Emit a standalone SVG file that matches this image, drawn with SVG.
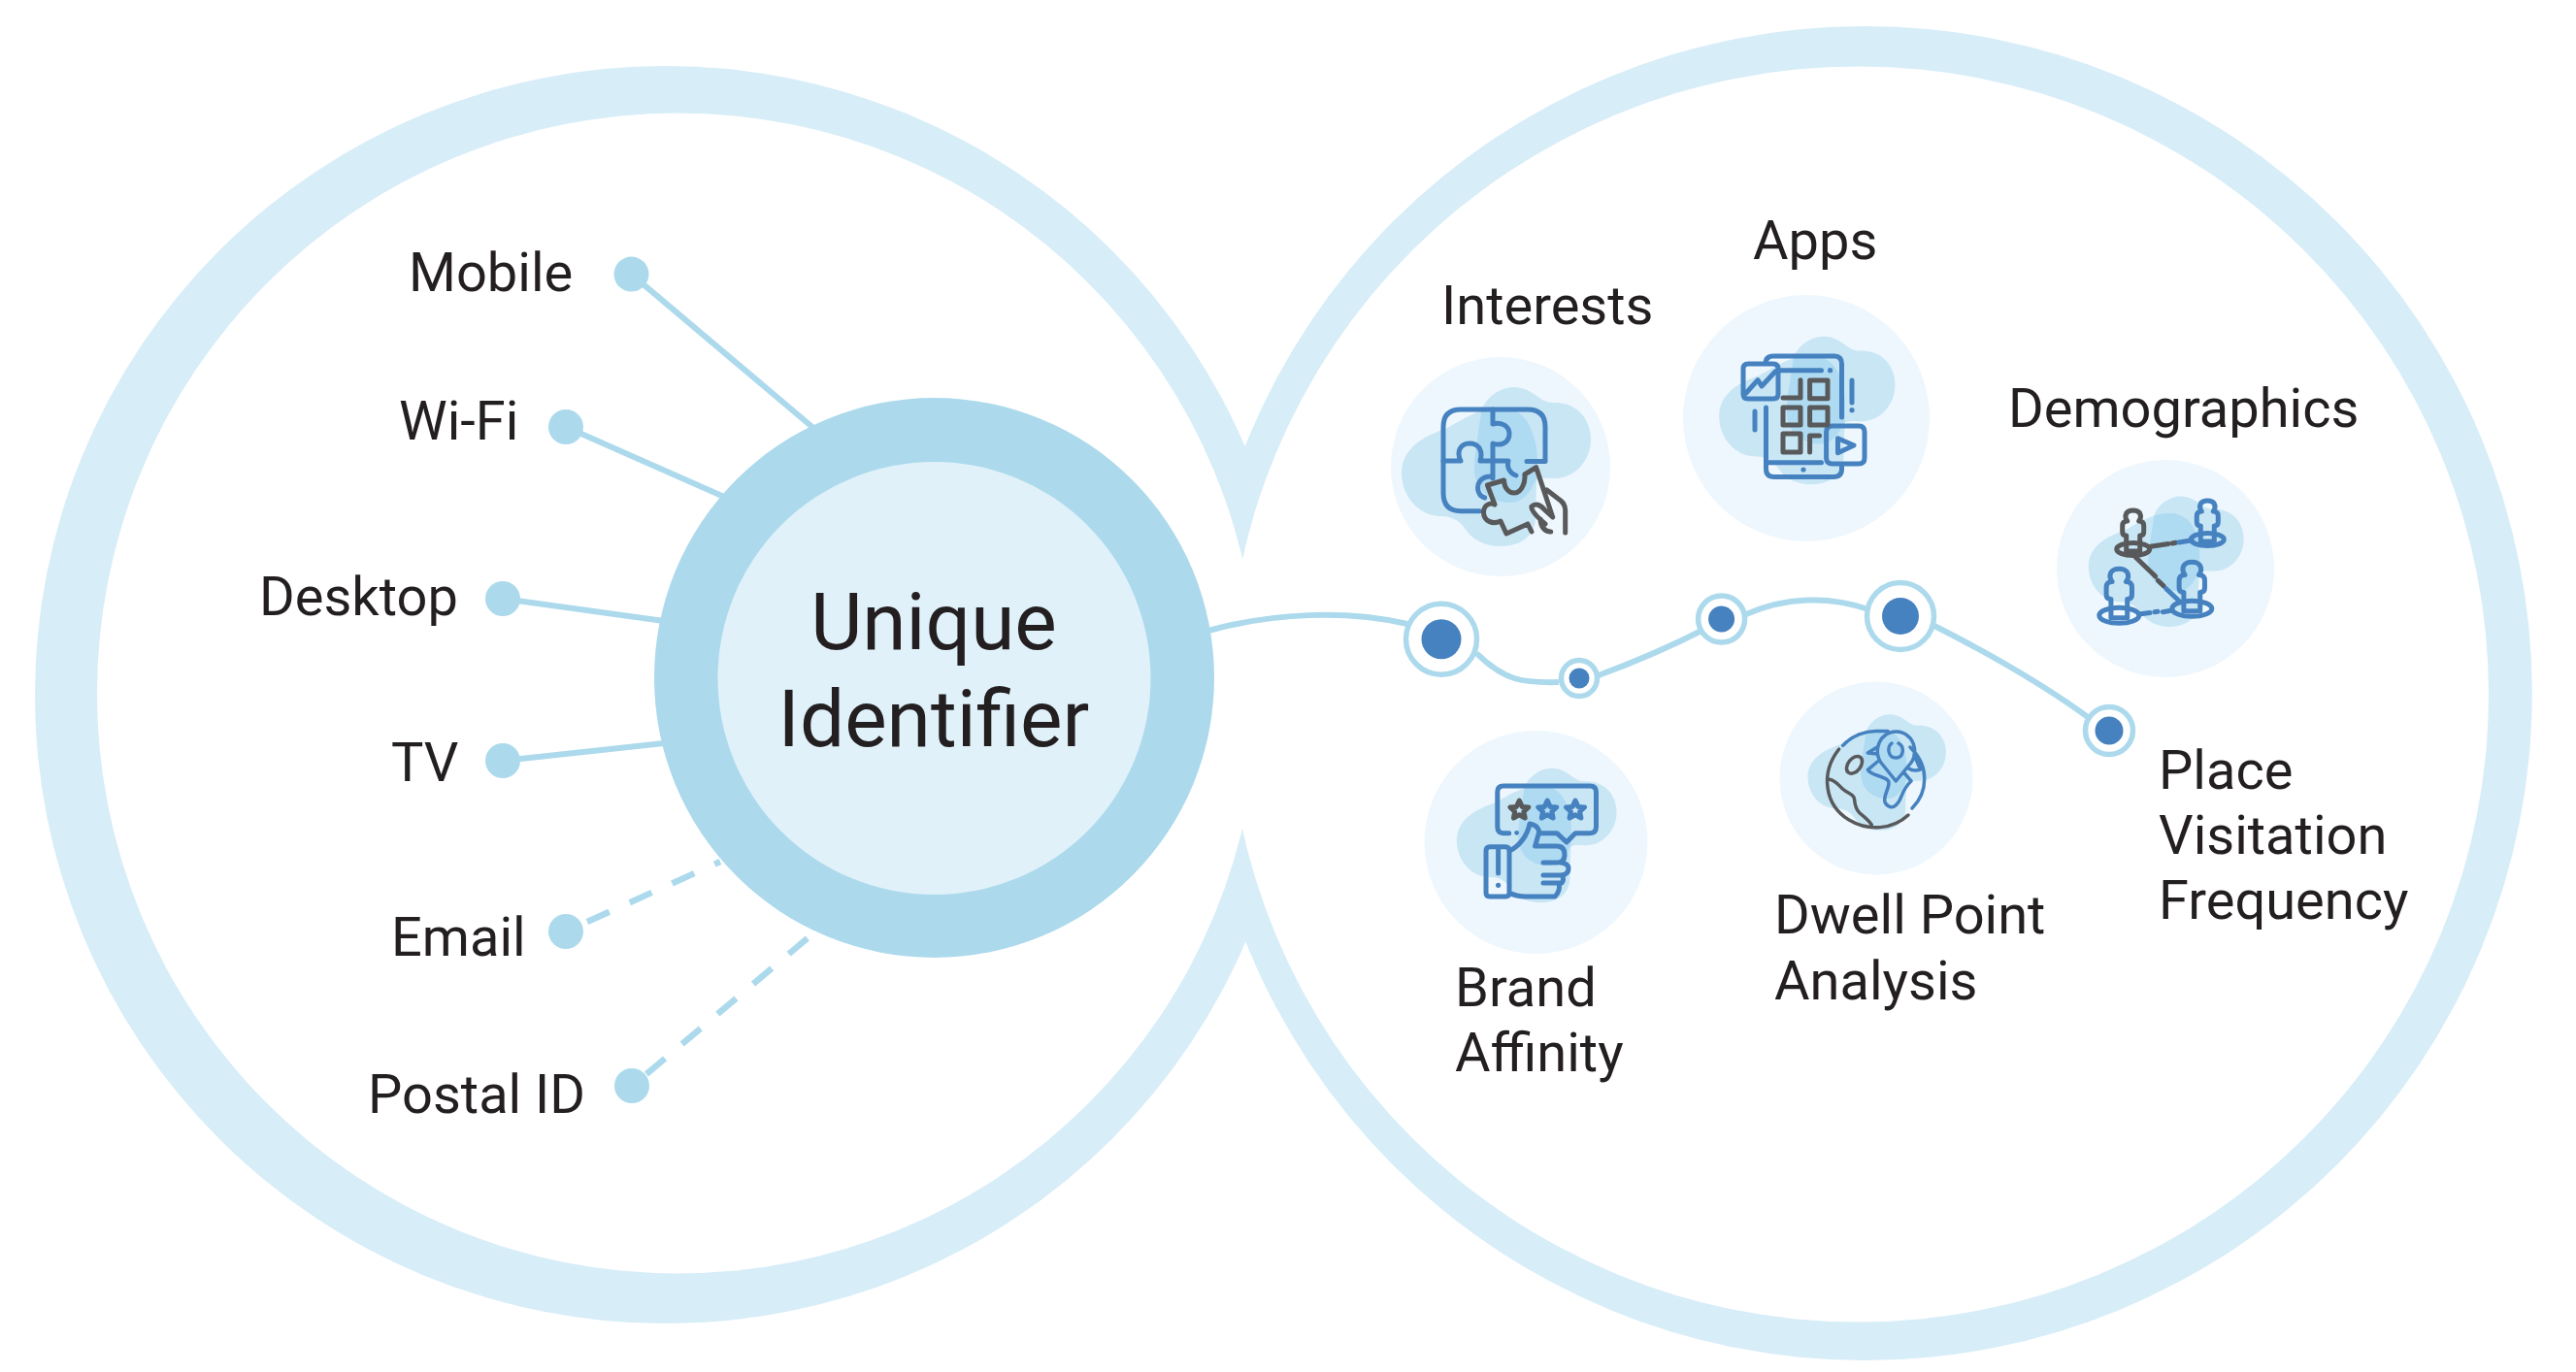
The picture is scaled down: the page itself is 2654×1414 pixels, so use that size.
<svg xmlns="http://www.w3.org/2000/svg" width="2654" height="1414" viewBox="0 0 2654 1414">
<style>
text{font-family:Roboto,"Liberation Sans",sans-serif;fill:#231f20;font-size:56px}
.band{fill:#d7edf8}.hole{fill:#fff}
.dot{fill:#acdaec}
.line{fill:none;stroke:#acdaec;stroke-width:6}
.dash{stroke-dasharray:25 23;stroke-width:6.5}
.bg{fill:#eef7fd}
.ring{fill:#fff;stroke:#acdaec;stroke-width:5.5}
.core{fill:#4682c0}
.b{fill:none;stroke:#4682c0;stroke-width:5;stroke-linecap:round;stroke-linejoin:round}
.g{fill:none;stroke:#58595b;stroke-width:5;stroke-linecap:round;stroke-linejoin:round}
.thin{stroke-width:3.5}
.b1{fill:#c9e6f5}.b2{fill:#aedaf2}
</style>
<defs>
<path id="blobA" d="M-57,-39C-85,-30-102,-15-102,6C-102,30-85,51-61,51C-48,51-40,58-35,66C-28,76-15,82 0,82C22,82 36,70 36,52C36,20 40,-10 36,-24C32,-45 22,-60 0,-61C-22,-61-40,-48-57,-39Z"/>
<path id="blobB" d="M14,-82C24,-82 32,-77 40,-71C45,-67 50,-66 56,-66C78,-66 93,-50 93,-28C93,-8 78,12 56,12C48,12 42,11 36,14C30,28 22,37 10,37C-12,37-27,22-27,2C-27,-15-22,-40-19.5,-58C-15,-72 0,-82 14,-82Z"/>
<clipPath id="clipA"><use href="#blobA"/></clipPath>
<g id="blob"><use href="#blobA" class="b1"/><use href="#blobB" class="b1"/><use href="#blobB" class="b2" clip-path="url(#clipA)"/></g>
<path id="body" d="M-7,2V-14Q-11,-14-11,-18V-24Q-11,-29-6,-29Q-9,-33-7,-37Q-5,-40 0,-40Q5,-40 7,-37Q9,-33 6,-29Q11,-29 11,-24V-18Q11,-14 7,-14V2Z"/>
<polygon id="star" points="0,-10 2.9,-3.6 9.5,-3.1 4.6,1.5 5.9,8.1 0,4.8 -5.9,8.1 -4.6,1.5 -9.5,-3.1 -2.9,-3.6"/>
</defs>

<g id="rings">
<ellipse class="band" cx="685.8" cy="716" rx="649.8" ry="648"/>
<circle class="band" cx="1921.3" cy="714.5" r="687.5"/>
<ellipse class="hole" cx="698.25" cy="714.5" rx="598.25" ry="598"/>
<ellipse class="hole" cx="1914.4" cy="715.5" rx="649.6" ry="647"/>
</g>

<g id="connectors">
<line class="line" x1="650.5" y1="282.6" x2="838" y2="441"/>
<line class="line" x1="583" y1="440" x2="746" y2="512"/>
<line class="line" x1="518" y1="617" x2="684" y2="640"/>
<line class="line" x1="518" y1="784" x2="684" y2="766"/>
<line class="line dash" x1="605" y1="950" x2="742" y2="888"/>
<line class="line dash" x1="666" y1="1107" x2="833" y2="966"/>
<path class="line" d="M1245,650C1310,632 1385,628 1450,643"/>
<path class="line" d="M1521,673C1550,702 1570,704 1606,703"/>
<path class="line" d="M1647,696C1682,683 1718,668 1755,649"/>
<path class="line" d="M1799,633C1840,615 1885,614 1925,628"/>
<path class="line" d="M1993,645C2050,674 2105,705 2155,742"/>
</g>

<g id="center">
<circle cx="962.5" cy="698.5" r="288.5" fill="#acdaec"/>
<circle cx="962.5" cy="699" r="223" fill="#e0f1fa"/>
<text x="962" y="669" text-anchor="middle" style="font-size:82px">Unique</text>
<text x="962" y="769" text-anchor="middle" style="font-size:82px">Identifier</text>
</g>

<g id="mobile"><circle class="dot" cx="650.5" cy="282.6" r="18"/><text x="421" y="300">Mobile</text></g>
<g id="wifi"><circle class="dot" cx="583" cy="440" r="18"/><text x="411" y="453">Wi-Fi</text></g>
<g id="desktop"><circle class="dot" cx="518" cy="617" r="18"/><text x="267" y="634">Desktop</text></g>
<g id="tv"><circle class="dot" cx="518" cy="784" r="18"/><text x="403" y="805">TV</text></g>
<g id="email"><circle class="dot" cx="583" cy="960" r="18"/><text x="403" y="985">Email</text></g>
<g id="postal"><circle class="dot" cx="651" cy="1119" r="18"/><text x="379" y="1147">Postal ID</text></g>

<g id="path-node-1"><circle class="ring" cx="1485" cy="658.7" r="36.5"/><circle class="core" cx="1485" cy="658.7" r="20.5"/></g>
<g id="path-node-2"><circle class="ring" cx="1627" cy="699" r="18.5"/><circle class="core" cx="1627" cy="699" r="10.5"/></g>
<g id="path-node-3"><circle class="ring" cx="1773.6" cy="638" r="24"/><circle class="core" cx="1773.6" cy="638" r="13.5"/></g>
<g id="path-node-4"><circle class="ring" cx="1958" cy="635" r="34.5"/><circle class="core" cx="1958" cy="635" r="19"/></g>
<g id="path-node-5"><circle class="ring" cx="2173" cy="753" r="24.5"/><circle class="core" cx="2173" cy="753" r="14.5"/></g>

<g id="interests">
<text x="1485" y="334">Interests</text>
<circle class="bg" cx="1546" cy="481" r="113"/>
<use href="#blob" x="1546" y="481"/>
<path class="b" d="M1524.5,526.7H1505Q1487,526.7 1487,508V440Q1487,422 1505,422H1574Q1592,422 1592,440V475.5H1573"/>
<path class="b" d="M1538,422V437C1548,434 1555,440 1555,447C1555,456 1547,460 1538,457V493"/>
<path class="b" d="M1487,475H1505C1500,465 1505,457 1514,457C1524,457 1528,465 1525,475H1554C1552,482 1556,488 1562,490"/>
<path class="b" d="M1536,491C1526,491 1521,498 1523,506C1524,510 1526,512 1529.7,513"/>
<path class="g" d="M1532.5,500L1549.5,495C1550,504 1555,508 1560,508C1567,508 1572,498 1570.8,489L1582.7,481.7L1599.7,533M1578,522C1582,518 1587,520 1592,526L1599.7,533M1578,522C1577,526 1585,534 1592,540M1574,540L1552,550L1546,537C1538,541 1528.5,537 1528.5,528C1528.5,521 1535,517 1540,520L1532.5,500M1574,540L1578,548M1587,535C1587,543 1592,548 1597.7,548M1593.7,505L1608,516Q1612.7,520 1612.7,526V549"/>
</g>

<g id="apps">
<text x="1806" y="267">Apps</text>
<circle class="bg" cx="1861" cy="431" r="127"/>
<use href="#blob" transform="translate(1866,423) scale(.93)"/>
<path class="b" d="M1819,375Q1819,367 1827,367H1890Q1897.5,367 1897.5,375V430M1819.5,420V483Q1819.5,491.5 1828,491.5H1889Q1897.5,491.5 1897.5,483V478M1819.5,476.7H1876.5M1831,381.7H1876.5M1808,424V443M1908,392V415M1796,380Q1796,375 1801,375H1827Q1832,375 1832,380V406Q1832,411 1827,411H1801Q1796,411 1796,406ZM1799,405L1811,391.7L1815,398L1829,383M1881.6,445Q1881.6,439 1888,439H1915Q1921,439 1921,445V472Q1921,478 1915,478H1888Q1881.6,478 1881.6,472ZM1893.5,451.7L1910,459L1893.5,466.7Z"/>
<g fill="#4682c0"><circle cx="1885.6" cy="381.7" r="2.6"/><circle cx="1858" cy="484" r="2.6"/><circle cx="1908" cy="422.7" r="2.6"/></g>
<path class="g" d="M1864.6,392H1883V410.7H1864.6ZM1837,410H1855V391.7M1837,420H1855V438H1837ZM1864.6,420H1883V438H1864.6ZM1837,447H1855V466H1837ZM1864.6,466V449H1874.5"/>
</g>

<g id="demographics">
<text x="2069" y="440">Demographics</text>
<circle class="bg" cx="2231" cy="586" r="112"/>
<use href="#blob" transform="translate(2235.4,578.7) scale(.82)"/>
<g class="g"><use href="#body" x="2197.7" y="566"/><ellipse cx="2197.7" cy="566" rx="17" ry="6.5"/>
<path d="M2215.7,563.3L2234,560.5M2238,560L2241.7,559.3M2200,574L2220.7,594M2223.3,598.3L2229.3,604"/></g>
<g class="b"><use href="#body" x="2274.3" y="556"/><ellipse cx="2274.3" cy="556" rx="17" ry="6.5"/>
<use href="#body" transform="translate(2183.3,634.3) scale(1.2)" style="stroke-width:4.2"/><ellipse cx="2183.3" cy="634.3" rx="20.5" ry="8"/>
<use href="#body" transform="translate(2258.3,627.3) scale(1.2)" style="stroke-width:4.2"/><ellipse cx="2258.3" cy="627.3" rx="20.5" ry="8"/>
<path d="M2245,559L2258.3,556.7M2231.7,606.7L2245,619.3M2205.7,632.7L2215,631.5M2220,630.7L2223,630.3M2228.3,630.7L2238.3,629"/></g>
</g>

<g id="brand-affinity">
<circle class="bg" cx="1582.5" cy="868" r="115"/>
<use href="#blob" transform="translate(1587,861) scale(.845)"/>
<path class="b" d="M1554.7,858.7H1549Q1542.8,858.7 1542.8,852V816Q1542.8,810 1549,810H1638Q1644.5,810 1644.5,816V852Q1644.5,858.7 1638,858.7H1623L1614,868L1604,858.7H1586"/>
<circle cx="1562.6" cy="858.3" r="2.4" fill="#4682c0"/>
<use href="#star" x="1565.3" y="835" class="g"/><use href="#star" x="1594.2" y="835" class="b"/><use href="#star" x="1623" y="835" class="b"/>
<path class="b" d="M1535,872.7H1551Q1555,872.7 1555,877V920Q1555,924 1551,924H1535Q1531,924 1531,920V877Q1531,872.7 1535,872.7ZM1543.6,873V900M1555,877C1566,872 1574,860 1576,849C1583,850 1587,855 1585,860L1581.6,872H1604Q1612,872 1612,881Q1612,889 1604,889H1590M1608,889Q1616,890 1616,895Q1616,901 1609,902H1590M1609,902Q1612,906 1609,910H1590M1606,910Q1608,918 1602,924H1572Q1562,924 1555,920"/>
<circle cx="1543.6" cy="912.3" r="2.6" fill="#4682c0"/>
<text x="1499" y="1037">Brand</text><text x="1499" y="1104">Affinity</text>
</g>

<g id="dwell-point">
<circle class="bg" cx="1933" cy="802" r="99.5"/>
<use href="#blob" transform="translate(1937,796) scale(.73)"/>
<path class="b thin" d="M1898.7,768.3C1908,758 1922,753 1934,753.4H1945M1968,770C1978,780 1983,792 1982.7,803C1982.7,815 1978,825 1970,833M1953.3,805L1938,786C1931,776 1935,763 1942,758C1948,752.5 1959,752.5 1965,758C1972,763 1976,776 1969,786ZM1949,766C1944,770 1945,781 1953.3,781C1961,781 1963,770 1956,766M1934.3,785L1924.4,793.3C1928,800 1946,800 1946,806.7C1946,814 1940,820 1942,826.7C1944,832 1950,833 1953,830C1960,825 1958,815 1969,805L1962,796.7M1934,770L1924.4,776L1934,777M1972,778L1978.6,793C1973,795 1968,793 1966,791.7"/>
<path class="g thin" d="M1894.7,772C1875,797 1880,830 1905,845C1925,857 1950,855 1966,840M1885,803.3C1892,805 1895,810 1898.7,813.3C1904,818 1910,818 1910.5,823.3C1911,830 1912,834 1916,838C1921,842 1925,845 1928.3,850"/>
<ellipse class="g thin" cx="1910.5" cy="788.3" rx="6.5" ry="10" transform="rotate(38 1910.5 788.3)"/>
<text x="1828" y="962">Dwell Point</text><text x="1828" y="1030">Analysis</text>
</g>

<g id="place-visitation">
<text x="2224" y="813">Place</text><text x="2224" y="880">Visitation</text><text x="2224" y="947">Frequency</text>
</g>
</svg>
